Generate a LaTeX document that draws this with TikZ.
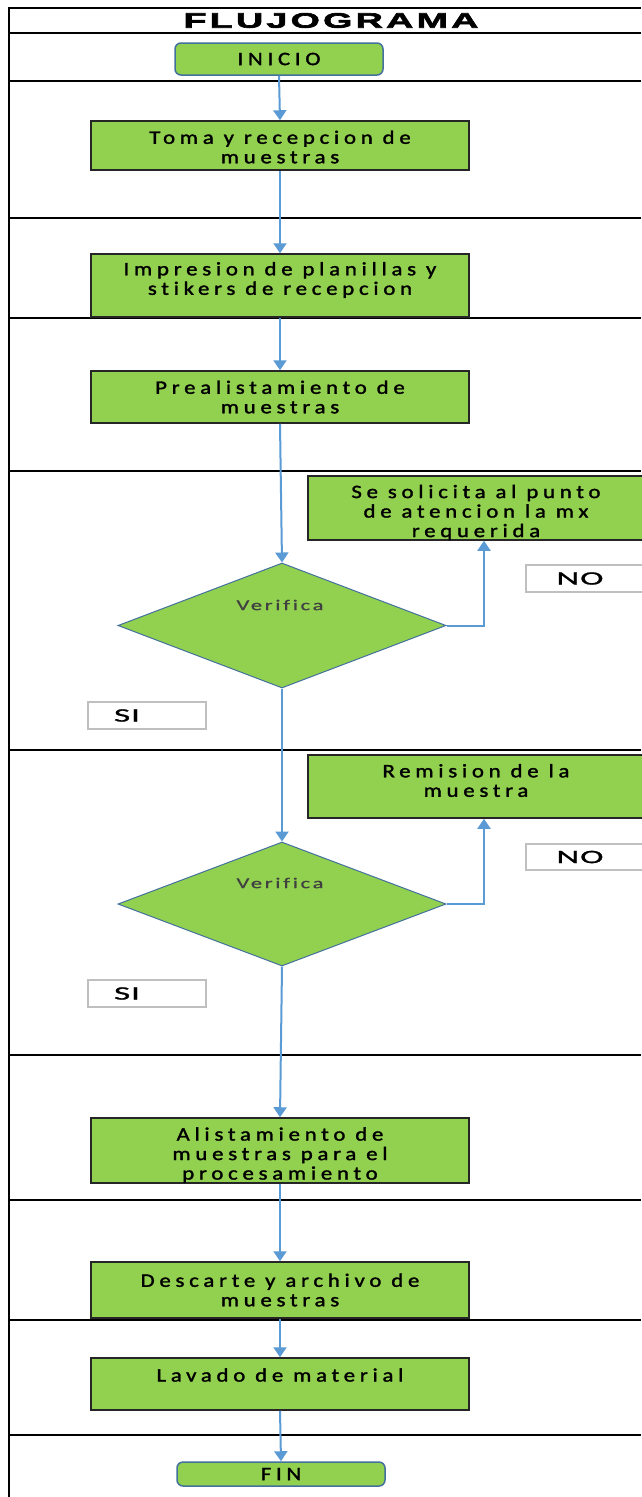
\documentclass[tikz,border=0pt]{standalone}
\usepackage{fontspec}
\usetikzlibrary{shapes.geometric,arrows.meta}
\newfontfamily\boxfont[LetterSpace=25,FakeStretch=1.2,FakeBold=1.6,Ligatures=NoCommon]{Carlito}
\newfontfamily\decfont[LetterSpace=18,FakeStretch=1.5,FakeBold=0.8,Ligatures=NoCommon]{Carlito}
\newfontfamily\tagfont[LetterSpace=5,FakeStretch=1.85,FakeBold=1.2]{Carlito}
\newfontfamily\titlefont[LetterSpace=15,FakeStretch=1.8,FakeBold=3]{Liberation Sans}
\definecolor{stepgreen}{HTML}{92D050}
\definecolor{flowblue}{HTML}{5B9BD5}
\definecolor{edgeblue}{HTML}{41719C}
\definecolor{tagedge}{HTML}{BFBFBF}
\definecolor{darktext}{HTML}{404040}
\begin{document}
\begin{tikzpicture}[x=1pt,y=-1pt,
  lane/.style={line width=2.5pt, draw=black},
  stepbox/.style={draw=black!85, line width=1.5pt, fill=stepgreen, inner sep=0pt},
  termbox/.style={draw=edgeblue, line width=1.5pt, fill=stepgreen, rounded corners=6pt, inner sep=0pt},
  decbox/.style={diamond, draw=edgeblue, line width=1pt, fill=stepgreen, inner sep=0pt},
  tagbox/.style={draw=tagedge, line width=1.8pt, fill=white, inner sep=0pt},
  txt/.style={font=\boxfont\fontsize{19}{19.5}\selectfont, align=center, inner sep=0pt},
  dectxt/.style={font=\decfont\fontsize{15}{17}\selectfont, text=darktext, inner sep=0pt},
  tagtxt/.style={font=\tagfont\fontsize{19}{20}\selectfont, inner sep=0pt},
  arr/.style={draw=flowblue, line width=2pt, -{Triangle[width=13pt,length=10pt]}}
]
\useasboundingbox (0,0) rectangle (641,1497);
\fill[white] (0,0) rectangle (641,1497);

% frame and lanes
\draw[lane] (9,1497) -- (9,8) -- (641,8);
\foreach \yy in {33,81,218,318,471,750,1055,1200,1320,1435}
  \draw[lane] (9,\yy) -- (641,\yy);
\node[font=\titlefont\bfseries\fontsize{21}{24}\selectfont, inner sep=0pt] (title) at (331,20.5) {FLUJOGRAMA};

% terminals
\node[termbox, minimum width=208pt, minimum height=32pt] (start) at (279,59) {};
\node[txt] (startt) at (279,59) {INICIO};
\node[termbox, minimum width=208pt, minimum height=24pt] (fin) at (281,1474) {};
\node[txt] (fint) at (281,1474) {FIN};

% process steps
\node[stepbox, minimum width=378pt, minimum height=49pt] (b1) at (280,145.5) {};
\node[txt] (b1t) at (280,147) {Toma y recepcion de\\muestras};
\node[stepbox, minimum width=378pt, minimum height=63pt] (b2) at (280,285.5) {};
\node[txt] (b2t) at (280,280) {Impresion de planillas y\\stikers de recepcion};
\node[stepbox, minimum width=378pt, minimum height=52pt] (b3) at (280,397) {};
\node[txt] (b3t) at (280,397) {Prealistamiento de\\muestras};
\node[stepbox, minimum width=336pt, minimum height=64pt] (b4) at (476,508) {};
\node[txt] (b4t) at (476,512.5) {Se solicita al punto\\de atencion la mx\\requerida};
\node[stepbox, minimum width=336pt, minimum height=63pt] (b5) at (476,786.5) {};
\node[txt] (b5t) at (476,780.5) {Remision de la\\muestra};
\node[stepbox, minimum width=378pt, minimum height=65pt] (b6) at (280,1150.5) {};
\node[txt] (b6t) at (280,1155) {Alistamiento de\\muestras para el\\procesamiento};
\node[stepbox, minimum width=378pt, minimum height=56pt] (b7) at (280,1290) {};
\node[txt] (b7t) at (280,1290) {Descarte y archivo de\\muestras};
\node[stepbox, minimum width=378pt, minimum height=52pt] (b8) at (280,1384) {};
\node[txt] (b8t) at (280,1375) {Lavado de material};

% decisions
\node[decbox, minimum width=328pt, minimum height=125pt] (d1) at (282,625.5) {};
\node[dectxt] (d1t) at (280,605) {Verifica};
\node[decbox, minimum width=328pt, minimum height=124pt] (d2) at (282,904) {};
\node[dectxt] (d2t) at (280,883) {Verifica};

% answer tags
\node[tagbox, minimum width=119pt, minimum height=27pt] (no1) at (585.5,578.5) {};
\node[tagtxt] (no1t) at (580,578.5) {NO};
\node[tagbox, minimum width=118pt, minimum height=27pt] (si1) at (147,715.5) {};
\node[tagtxt] (si1t) at (127,715.5) {SI};
\node[tagbox, minimum width=119pt, minimum height=26pt] (no2) at (585.5,857) {};
\node[tagtxt] (no2t) at (580,857) {NO};
\node[tagbox, minimum width=118pt, minimum height=27pt] (si2) at (147,993.5) {};
\node[tagtxt] (si2t) at (127,993.5) {SI};

% connectors
\draw[arr] (start.south) -- (b1.north);
\draw[arr] (b1.south) -- (b2.north);
\draw[arr] (b2.south) -- (b3.north);
\draw[arr] (b3.south) -- (d1.north);
\draw[arr] (d1.east) -| ([xshift=8pt]b4.south);
\draw[arr] (d1.south) -- (d2.north);
\draw[arr] (d2.east) -| ([xshift=8pt]b5.south);
\draw[arr] (d2.south) -- (b6.north);
\draw[arr] (b6.south) -- (b7.north);
\draw[arr] (b7.south) -- (b8.north);
\draw[arr] (b8.south) -- (fin.north);
\end{tikzpicture}
\end{document}
